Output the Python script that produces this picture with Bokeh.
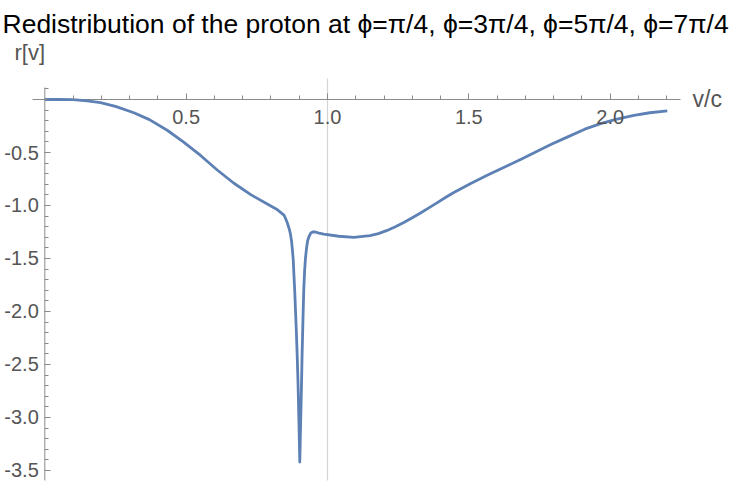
from bokeh.plotting import figure
from bokeh.models import FixedTicker, Label, Range1d
from bokeh.embed import file_html
from bokeh.resources import INLINE

# Redistributed proton density r[v] against v/c
v = [0.0, 0.05, 0.1, 0.15, 0.197, 0.25, 0.315, 0.37, 0.433, 0.49, 0.551,
     0.61, 0.669, 0.73, 0.787, 0.82, 0.846, 0.852, 0.858, 0.864, 0.869,
     0.873, 0.876, 0.879, 0.881, 0.884, 0.887, 0.890, 0.893, 0.896, 0.899,
     0.902, 0.905, 0.908, 0.910, 0.913, 0.916, 0.919, 0.922, 0.926, 0.930,
     0.935, 0.941, 0.948, 0.957, 0.97, 0.987, 1.04, 1.093, 1.15, 1.18,
     1.211, 1.24, 1.27, 1.30, 1.329, 1.36, 1.39, 1.42, 1.447, 1.505, 1.565,
     1.625, 1.683, 1.74, 1.79, 1.848, 1.91, 1.966, 2.02, 2.084, 2.14, 2.202]
r = [0.0, 0.0, -0.002, -0.012, -0.03, -0.065, -0.125, -0.19, -0.29, -0.40,
     -0.528, -0.665, -0.79, -0.9, -0.985, -1.035, -1.09, -1.125, -1.165,
     -1.215, -1.27, -1.34, -1.42, -1.52, -1.64, -1.80, -2.0, -2.2, -2.43,
     -2.7, -3.05, -3.42, -3.05, -2.7, -2.43, -2.1, -1.80, -1.62, -1.50,
     -1.40, -1.33, -1.29, -1.26, -1.25, -1.25, -1.26, -1.27, -1.29, -1.30,
     -1.285, -1.265, -1.235, -1.20, -1.16, -1.115, -1.07, -1.02, -0.97,
     -0.92, -0.877, -0.795, -0.715, -0.64, -0.565, -0.49, -0.425, -0.355,
     -0.28, -0.228, -0.187, -0.15, -0.125, -0.107]

x_ticks = [0.5, 1.0, 1.5, 2.0]
x_tick_labels = ["0.5", "1.0", "1.5", "2.0"]
y_ticks = [-0.5, -1.0, -1.5, -2.0, -2.5, -3.0, -3.5]
y_tick_labels = ["-0.5", "-1.0", "-1.5", "-2.0", "-2.5", "-3.0", "-3.5"]
x_minor = [round(0.1 * i, 1) for i in range(1, 23)]
y_minor = [round(-0.1 * i, 1) for i in range(-1, 36)]

# visible extent of the two axis lines
x_axis_lo, x_axis_hi = -0.0435, 2.2487
y_axis_lo, y_axis_hi = -3.594, 0.113
grid_top = 0.198

title_text = ("Redistribution of the proton at \u03d5=\u03c0/4, \u03d5=3\u03c0/4, "
              "\u03d5=5\u03c0/4, \u03d5=7\u03c0/4")

FONT = "Liberation Sans"
AXIS_GRAY = "#8a8a8a"
LABEL_GRAY = "#555555"

p = figure(width=730, height=486, output_backend="svg", toolbar_location=None,
           x_range=Range1d(-0.1567, 2.4256), y_range=Range1d(-3.651, 0.934),
           min_border_left=0, min_border_right=0, min_border_top=0,
           min_border_bottom=0)
p.outline_line_color = None
p.xgrid.visible = False
p.ygrid.visible = False

for ax, ticks, labels, minor in ((p.xaxis[0], x_ticks, x_tick_labels, x_minor),
                                 (p.yaxis[0], y_ticks, y_tick_labels, y_minor)):
    ax.fixed_location = 0
    ax.ticker = FixedTicker(ticks=ticks, minor_ticks=minor)
    ax.major_label_overrides = dict(zip(ticks, labels))
    ax.axis_line_color = None
    ax.major_tick_line_color = AXIS_GRAY
    ax.minor_tick_line_color = AXIS_GRAY
    ax.major_tick_in = 6
    ax.major_tick_out = 0
    ax.minor_tick_in = 4
    ax.minor_tick_out = 0
    ax.major_label_text_font = FONT
    ax.major_label_text_font_size = "20px"
    ax.major_label_text_color = LABEL_GRAY

p.xaxis.major_label_standoff = 10
p.yaxis.major_label_standoff = 6

# vertical reference line at v/c = 1
p.segment(x0=[1.0], y0=[y_axis_lo], x1=[1.0], y1=[grid_top],
          line_color="#d4d4d4", line_width=1.2)

# axis lines crossing at the origin
p.segment(x0=[x_axis_lo, 0.0], y0=[0.0, y_axis_lo],
          x1=[x_axis_hi, 0.0], y1=[0.0, y_axis_hi],
          line_color=AXIS_GRAY, line_width=1)

p.line(v, r, line_color="#5E81B5", line_width=2.8, line_join="round")

p.add_layout(Label(x=2, y=463, x_units="screen", y_units="screen",
                   text=title_text, text_font=FONT, text_font_size="26.5px",
                   text_color="black", text_baseline="alphabetic"))
p.add_layout(Label(x=14, y=434, x_units="screen", y_units="screen",
                   text="r[v]", text_font=FONT, text_font_size="22px",
                   text_color=LABEL_GRAY, text_baseline="alphabetic"))
p.add_layout(Label(x=692, y=388, x_units="screen", y_units="screen",
                   text="v/c", text_font=FONT, text_font_size="23px",
                   text_color=LABEL_GRAY, text_baseline="alphabetic"))

open("out.html", "w").write(file_html(p, INLINE))
